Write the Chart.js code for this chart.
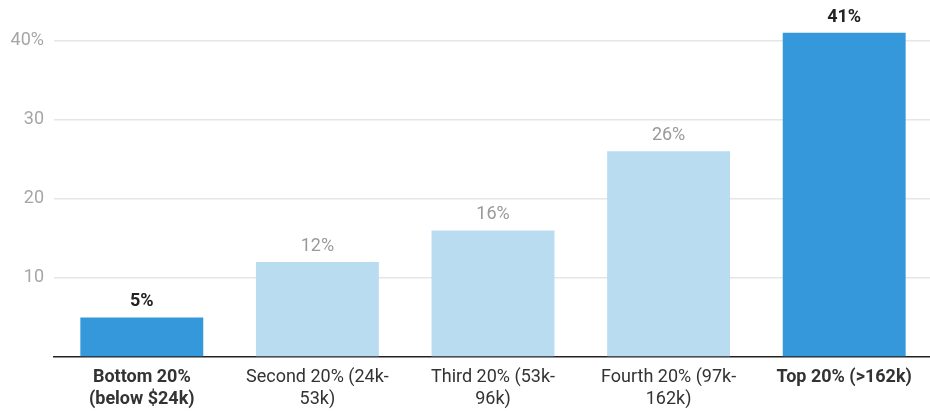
<!DOCTYPE html>
<html>
<head>
<meta charset="utf-8">
<script src="https://cdn.jsdelivr.net/npm/chart.js@4"></script>
<style>
html,body{margin:0;padding:0;background:#fff;overflow:hidden;width:930px;height:411px;}
#wrap{position:absolute;left:0;top:0;width:932px;height:411px;}
</style>
</head>
<body>
<div id="wrap"><canvas id="c" width="932" height="411"></canvas></div>
<script>
const categories = [
  ["Bottom 20%", "(below $24k)"],
  ["Second 20% (24k-", "53k)"],
  ["Third 20% (53k-", "96k)"],
  ["Fourth 20% (97k-", "162k)"],
  ["Top 20% (>162k)"]
];
const values = [5, 12, 16, 26, 41];
const highlighted = [true, false, false, false, true];
const yTicks = [10, 20, 30, 40];

const DARK = '#3498db';
const LIGHT = '#b9dcf1';
const FONT = 'Roboto, "Noto Sans", sans-serif';

const labelPlugin = {
  id: 'valueLabels',
  afterDatasetsDraw(chart) {
    const ctx = chart.ctx;
    const meta = chart.getDatasetMeta(0);
    ctx.save();
    ctx.textAlign = 'center';
    ctx.textBaseline = 'alphabetic';
    meta.data.forEach((bar, i) => {
      const hi = highlighted[i];
      ctx.font = (hi ? 'bold ' : '') + '18px ' + FONT;
      ctx.fillStyle = hi ? '#222' : '#999';
      ctx.fillText(values[i] + '%', bar.x, bar.y - 11);
    });
    ctx.restore();
  }
};

new Chart(document.getElementById('c'), {
  type: 'bar',
  data: {
    labels: categories,
    datasets: [{
      data: values,
      backgroundColor: highlighted.map(h => h ? DARK : LIGHT),
      barPercentage: 0.7,
      categoryPercentage: 1.0,
      borderWidth: 0
    }]
  },
  options: {
    responsive: false,
    animation: false,
    layout: { padding: { top: 1, right: 0, left: 0, bottom: 0 } },
    plugins: { legend: { display: false }, tooltip: { enabled: false } },
    scales: {
      x: {
        grid: { display: false, drawTicks: false },
        border: { display: true, color: '#222', width: 1.5 },
        ticks: {
          maxRotation: 0,
          autoSkip: false,
          padding: 10,
          color: '#333',
          font: (ctx) => ({ family: FONT, size: 18, weight: highlighted[ctx.index] ? 'bold' : 'normal', lineHeight: 1.2 })
        },
        afterFit(scale) { scale.height = 54; scale.paddingLeft = 0; scale.paddingRight = 0; }
      },
      y: {
        min: 0,
        max: 45,
        afterBuildTicks(scale) { scale.ticks = [0].concat(yTicks).map(v => ({ value: v })); },
        grid: {
          drawTicks: false,
          color: (ctx) => ctx.tick && ctx.tick.value === 0 ? 'rgba(0,0,0,0)' : '#e6e6e6',
          lineWidth: 1.5
        },
        border: { display: false },
        ticks: {
          padding: 10,
          color: '#a6a6a6',
          font: { family: FONT, size: 18 },
          callback: (v) => v === 0 ? '' : (v === 40 ? v + '%' : String(v))
        },
        afterFit(scale) { scale.width = 54; scale.paddingTop = 0; scale.paddingBottom = 0; }
      }
    }
  },
  plugins: [labelPlugin]
});
</script>
</body>
</html>
